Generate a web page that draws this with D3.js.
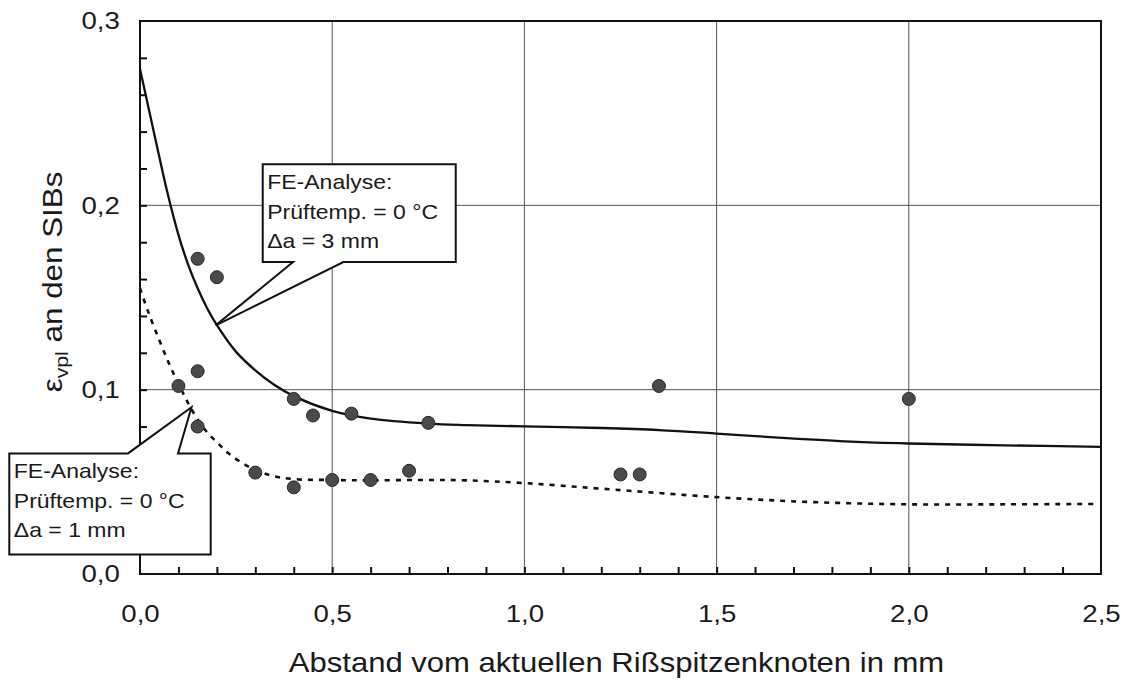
<!DOCTYPE html>
<html lang="de">
<head>
<meta charset="UTF-8">
<title>Vergleichsdehnung an den SIBs</title>
<script src="https://d3js.org/d3.v7.min.js"></script>
<style>
  body { margin: 0; background: #fff; }
  svg text { font-family: "Liberation Sans", Arial, Helvetica, sans-serif; fill: #1a1a1a; }
</style>
</head>
<body>
<script>
// Messpunkte (Abstand in mm, Dehnung)
var pointX = [0.10, 0.15, 0.20, 0.15, 0.15, 0.30, 0.40, 0.40, 0.45, 0.50, 0.55, 0.60, 0.70, 0.75, 1.25, 1.30, 1.35, 2.00];
var pointY = [0.102, 0.171, 0.161, 0.110, 0.080, 0.055, 0.047, 0.095, 0.086, 0.051, 0.087, 0.051, 0.056, 0.082, 0.054, 0.054, 0.102, 0.095];

// FE-Analyse, da = 3 mm (durchgezogen)
var solidX = [0, 0.04, 0.07, 0.10, 0.125, 0.15, 0.175, 0.20, 0.25, 0.30, 0.35, 0.40, 0.50, 0.60, 0.75, 0.85, 1.0, 1.2, 1.35, 1.5, 1.65, 1.85, 2.0, 2.25, 2.5];
var solidY = [0.274, 0.236, 0.208, 0.184, 0.168, 0.155, 0.144, 0.135, 0.1205, 0.1105, 0.1025, 0.0965, 0.0885, 0.0843, 0.0816, 0.0808, 0.0801, 0.0792, 0.0781, 0.0762, 0.0741, 0.0718, 0.0708, 0.0698, 0.069];

// FE-Analyse, da = 1 mm (gestrichelt)
var dashX = [0, 0.02, 0.05, 0.08, 0.11, 0.133, 0.168, 0.20, 0.23, 0.28, 0.34, 0.40, 0.50, 0.60, 0.73, 0.85, 1.0, 1.2, 1.5, 1.75, 2.0, 2.25, 2.48];
var dashY = [0.155, 0.143, 0.127, 0.112, 0.099, 0.0897, 0.0785, 0.0715, 0.0655, 0.0585, 0.0535, 0.0515, 0.051, 0.0508, 0.051, 0.0508, 0.0493, 0.0463, 0.0417, 0.039, 0.0378, 0.0378, 0.038];

var xTicks = [0, 0.5, 1.0, 1.5, 2.0, 2.5];
var yTicks = [0, 0.1, 0.2, 0.3];
var xMinor = d3.range(1, 25).map(function(i) { return i / 10; });
var yMinor = d3.range(1, 15).map(function(i) { return i / 50; });

var callout3 = ["FE-Analyse:", "Prüftemp. = 0 °C", "\u0394a = 3 mm"];
var callout1 = ["FE-Analyse:", "Prüftemp. = 0 °C", "\u0394a = 1 mm"];

var w = 1125;
var h = 683;
var SX = 1.15;   // Schrift im Original etwas breiter

var svg = d3.select("body")
    .append("svg")
    .attr("width", w)
    .attr("height", h);

var x = d3.scaleLinear().domain([0, 2.5]).range([140, 1101]);
var y = d3.scaleLinear().domain([0, 0.3]).range([574, 21]);

var fmt = d3.formatLocale({decimal: ",", thousands: ".", grouping: [3], currency: ["", " €"]}).format(".1f");

function stretchedText(g, px, py, str, size, anchor) {
    return g.append("text")
        .attr("transform", "translate(" + px + "," + py + ") scale(" + SX + ",1)")
        .attr("text-anchor", anchor || "start")
        .attr("font-size", size)
        .text(str);
}

// Gitterlinien
svg.append("g").selectAll("line")
    .data(xTicks.slice(1, -1))
    .join("line")
    .attr("x1", function(d) { return x(d); })
    .attr("x2", function(d) { return x(d); })
    .attr("y1", y(0))
    .attr("y2", y(0.3))
    .attr("stroke", "#555")
    .attr("stroke-width", 1);

svg.append("g").selectAll("line")
    .data(yTicks.slice(1, -1))
    .join("line")
    .attr("x1", x(0))
    .attr("x2", x(2.5))
    .attr("y1", function(d) { return y(d); })
    .attr("y2", function(d) { return y(d); })
    .attr("stroke", "#555")
    .attr("stroke-width", 1);

// Rahmen
svg.append("rect")
    .attr("x", x(0))
    .attr("y", y(0.3))
    .attr("width", x(2.5) - x(0))
    .attr("height", y(0) - y(0.3))
    .attr("fill", "none")
    .attr("stroke", "#111")
    .attr("stroke-width", 2);

// kleine Teilstriche nach innen
svg.append("g")
    .attr("transform", "translate(0," + y(0) + ")")
    .call(d3.axisBottom(x).tickValues(xMinor).tickSize(-7).tickFormat(""))
    .call(function(g) {
        g.select(".domain").remove();
        g.selectAll("line").attr("stroke", "#111").attr("stroke-width", 2);
    });

svg.append("g")
    .attr("transform", "translate(" + x(0) + ",0)")
    .call(d3.axisLeft(y).tickValues(yMinor).tickSize(-7).tickFormat(""))
    .call(function(g) {
        g.select(".domain").remove();
        g.selectAll("line").attr("stroke", "#111").attr("stroke-width", 2);
    });

// Achsbeschriftung
svg.append("g")
    .attr("transform", "translate(0," + y(0) + ")")
    .call(d3.axisBottom(x).tickValues(xTicks).tickFormat(fmt).tickSize(0).tickPadding(31))
    .call(function(g) {
        g.select(".domain").remove();
        g.attr("font-family", null).attr("font-size", 24);
        g.selectAll("text").attr("fill", "#1a1a1a").attr("transform", "scale(" + SX + ",1)");
    });

svg.append("g")
    .attr("transform", "translate(" + x(0) + ",0)")
    .call(d3.axisLeft(y).tickValues(yTicks).tickFormat(fmt).tickSize(0).tickPadding(17.5))
    .call(function(g) {
        g.select(".domain").remove();
        g.attr("font-family", null).attr("font-size", 24);
        g.selectAll("text").attr("fill", "#1a1a1a").attr("transform", "scale(" + SX + ",1)");
    });

// Kurven
var line = d3.line()
    .x(function(d) { return x(d[0]); })
    .y(function(d) { return y(d[1]); })
    .curve(d3.curveCatmullRom.alpha(0.5));

svg.append("path")
    .datum(d3.zip(solidX, solidY))
    .attr("d", line)
    .attr("fill", "none")
    .attr("stroke", "#111")
    .attr("stroke-width", 2.3);

svg.append("path")
    .datum(d3.zip(dashX, dashY))
    .attr("d", line)
    .attr("fill", "none")
    .attr("stroke", "#111")
    .attr("stroke-width", 2.6)
    .attr("stroke-dasharray", "5,6");

// Messpunkte
svg.append("g").selectAll("circle")
    .data(d3.zip(pointX, pointY))
    .join("circle")
    .attr("cx", function(d) { return x(d[0]); })
    .attr("cy", function(d) { return y(d[1]); })
    .attr("r", 6.5)
    .attr("fill", "#4a4a4a")
    .attr("stroke", "#2a2a2a")
    .attr("stroke-width", 1);

// Legenden-Kästen mit Zeiger
function callout(tip, left, top, right, bottom, baseA, baseB, onTop, lines) {
    var p = d3.path();
    if (onTop) {
        p.moveTo(left, top);
        p.lineTo(baseA, top);
        p.lineTo(tip[0], tip[1]);
        p.lineTo(baseB, top);
        p.lineTo(right, top);
        p.lineTo(right, bottom);
        p.lineTo(left, bottom);
    } else {
        p.moveTo(left, top);
        p.lineTo(right, top);
        p.lineTo(right, bottom);
        p.lineTo(baseB, bottom);
        p.lineTo(tip[0], tip[1]);
        p.lineTo(baseA, bottom);
        p.lineTo(left, bottom);
    }
    p.closePath();
    var g = svg.append("g");
    g.append("path")
        .attr("d", p.toString())
        .attr("fill", "#fff")
        .attr("stroke", "#111")
        .attr("stroke-width", 2)
        .attr("stroke-linejoin", "miter");
    lines.forEach(function(t, i) {
        stretchedText(g, left + 4.5, top + 25 + i * 29.5, t, 20);
    });
}

var tip3 = [x(0.197), y(0.1349)];
callout(tip3, tip3[0] + 47, tip3[1] - 161, tip3[0] + 240, tip3[1] - 63.3,
        tip3[0] + 77.3, tip3[0] + 127.6, false, callout3);

var tip1 = [x(0.134), y(0.0905)];
callout(tip1, 9.3, tip1[1] + 46.2, 210.7, tip1[1] + 147.2,
        tip1[0] - 63.5, tip1[0] - 13.5, true, callout1);

// Achsentitel
stretchedText(svg, 616.5, 672, "Abstand vom aktuellen Rißspitzenknoten in mm", 27, "middle");

var yt = svg.append("text")
    .attr("transform", "translate(62,282) rotate(-90) scale(1.12,1)")
    .attr("text-anchor", "middle")
    .attr("font-size", 28);
yt.append("tspan").text("\u03b5");
yt.append("tspan").attr("font-size", 19).attr("dy", 6).text("vpl");
yt.append("tspan").attr("dy", -6).text(" an den SIBs");
</script>
</body>
</html>
